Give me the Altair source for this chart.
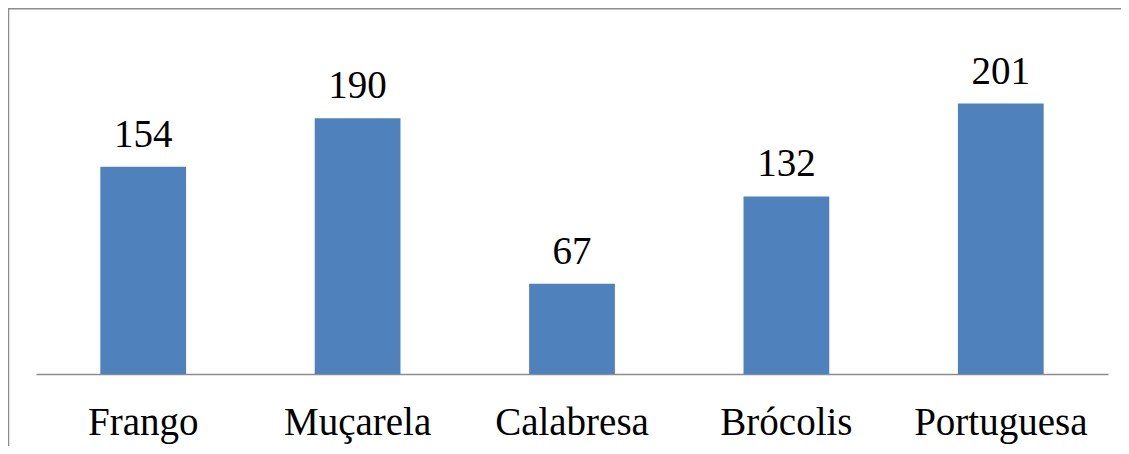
import altair as alt
import pandas as pd

categories = ["Frango", "Muçarela", "Calabresa", "Brócolis", "Portuguesa"]
values = [154, 190, 67, 132, 201]

df = pd.DataFrame({"cat": categories, "val": values})

FONT = "Liberation Serif"

x = alt.X(
    "cat:N",
    sort=categories,
    title=None,
    scale=alt.Scale(paddingInner=0.6, paddingOuter=0.3),
    axis=alt.Axis(
        labelAngle=0,
        labelFont=FONT,
        labelFontSize=39,
        labelColor="#000000",
        labelBaseline="alphabetic",
        labelPadding=60,
        ticks=False,
        tickSize=0,
        domainColor="#8c8c8c",
        domainWidth=1.5,
        grid=False,
    ),
)
y = alt.Y("val:Q", title=None, scale=alt.Scale(domain=[0, 272]), axis=None)

bars = alt.Chart(df).mark_bar(color="#4F81BD").encode(x=x, y=y)
labels = alt.Chart(df).mark_text(
    font=FONT, fontSize=39, color="#000000", baseline="alphabetic", dy=-20
).encode(x=x, y=y, text="val:Q")

frame = alt.Chart(alt.Data(values=[{"a": 1}])).mark_rect(
    filled=False, stroke="#8c8c8c", strokeWidth=1.5, clip=False
).encode(
    x=alt.value(-27.5), x2=alt.value(1300), y=alt.value(0.75), y2=alt.value(700)
)

chart = (
    alt.layer(bars, labels, frame)
    .properties(
        width=1072,
        height=366,
        autosize=alt.AutoSizeParams(type="none"),
        padding={"left": 28, "right": 13, "top": 0, "bottom": 72},
        background="#ffffff",
    )
    .configure_view(stroke=None)
)

chart.save("out.html", embed_options={"renderer": "svg", "actions": False})
